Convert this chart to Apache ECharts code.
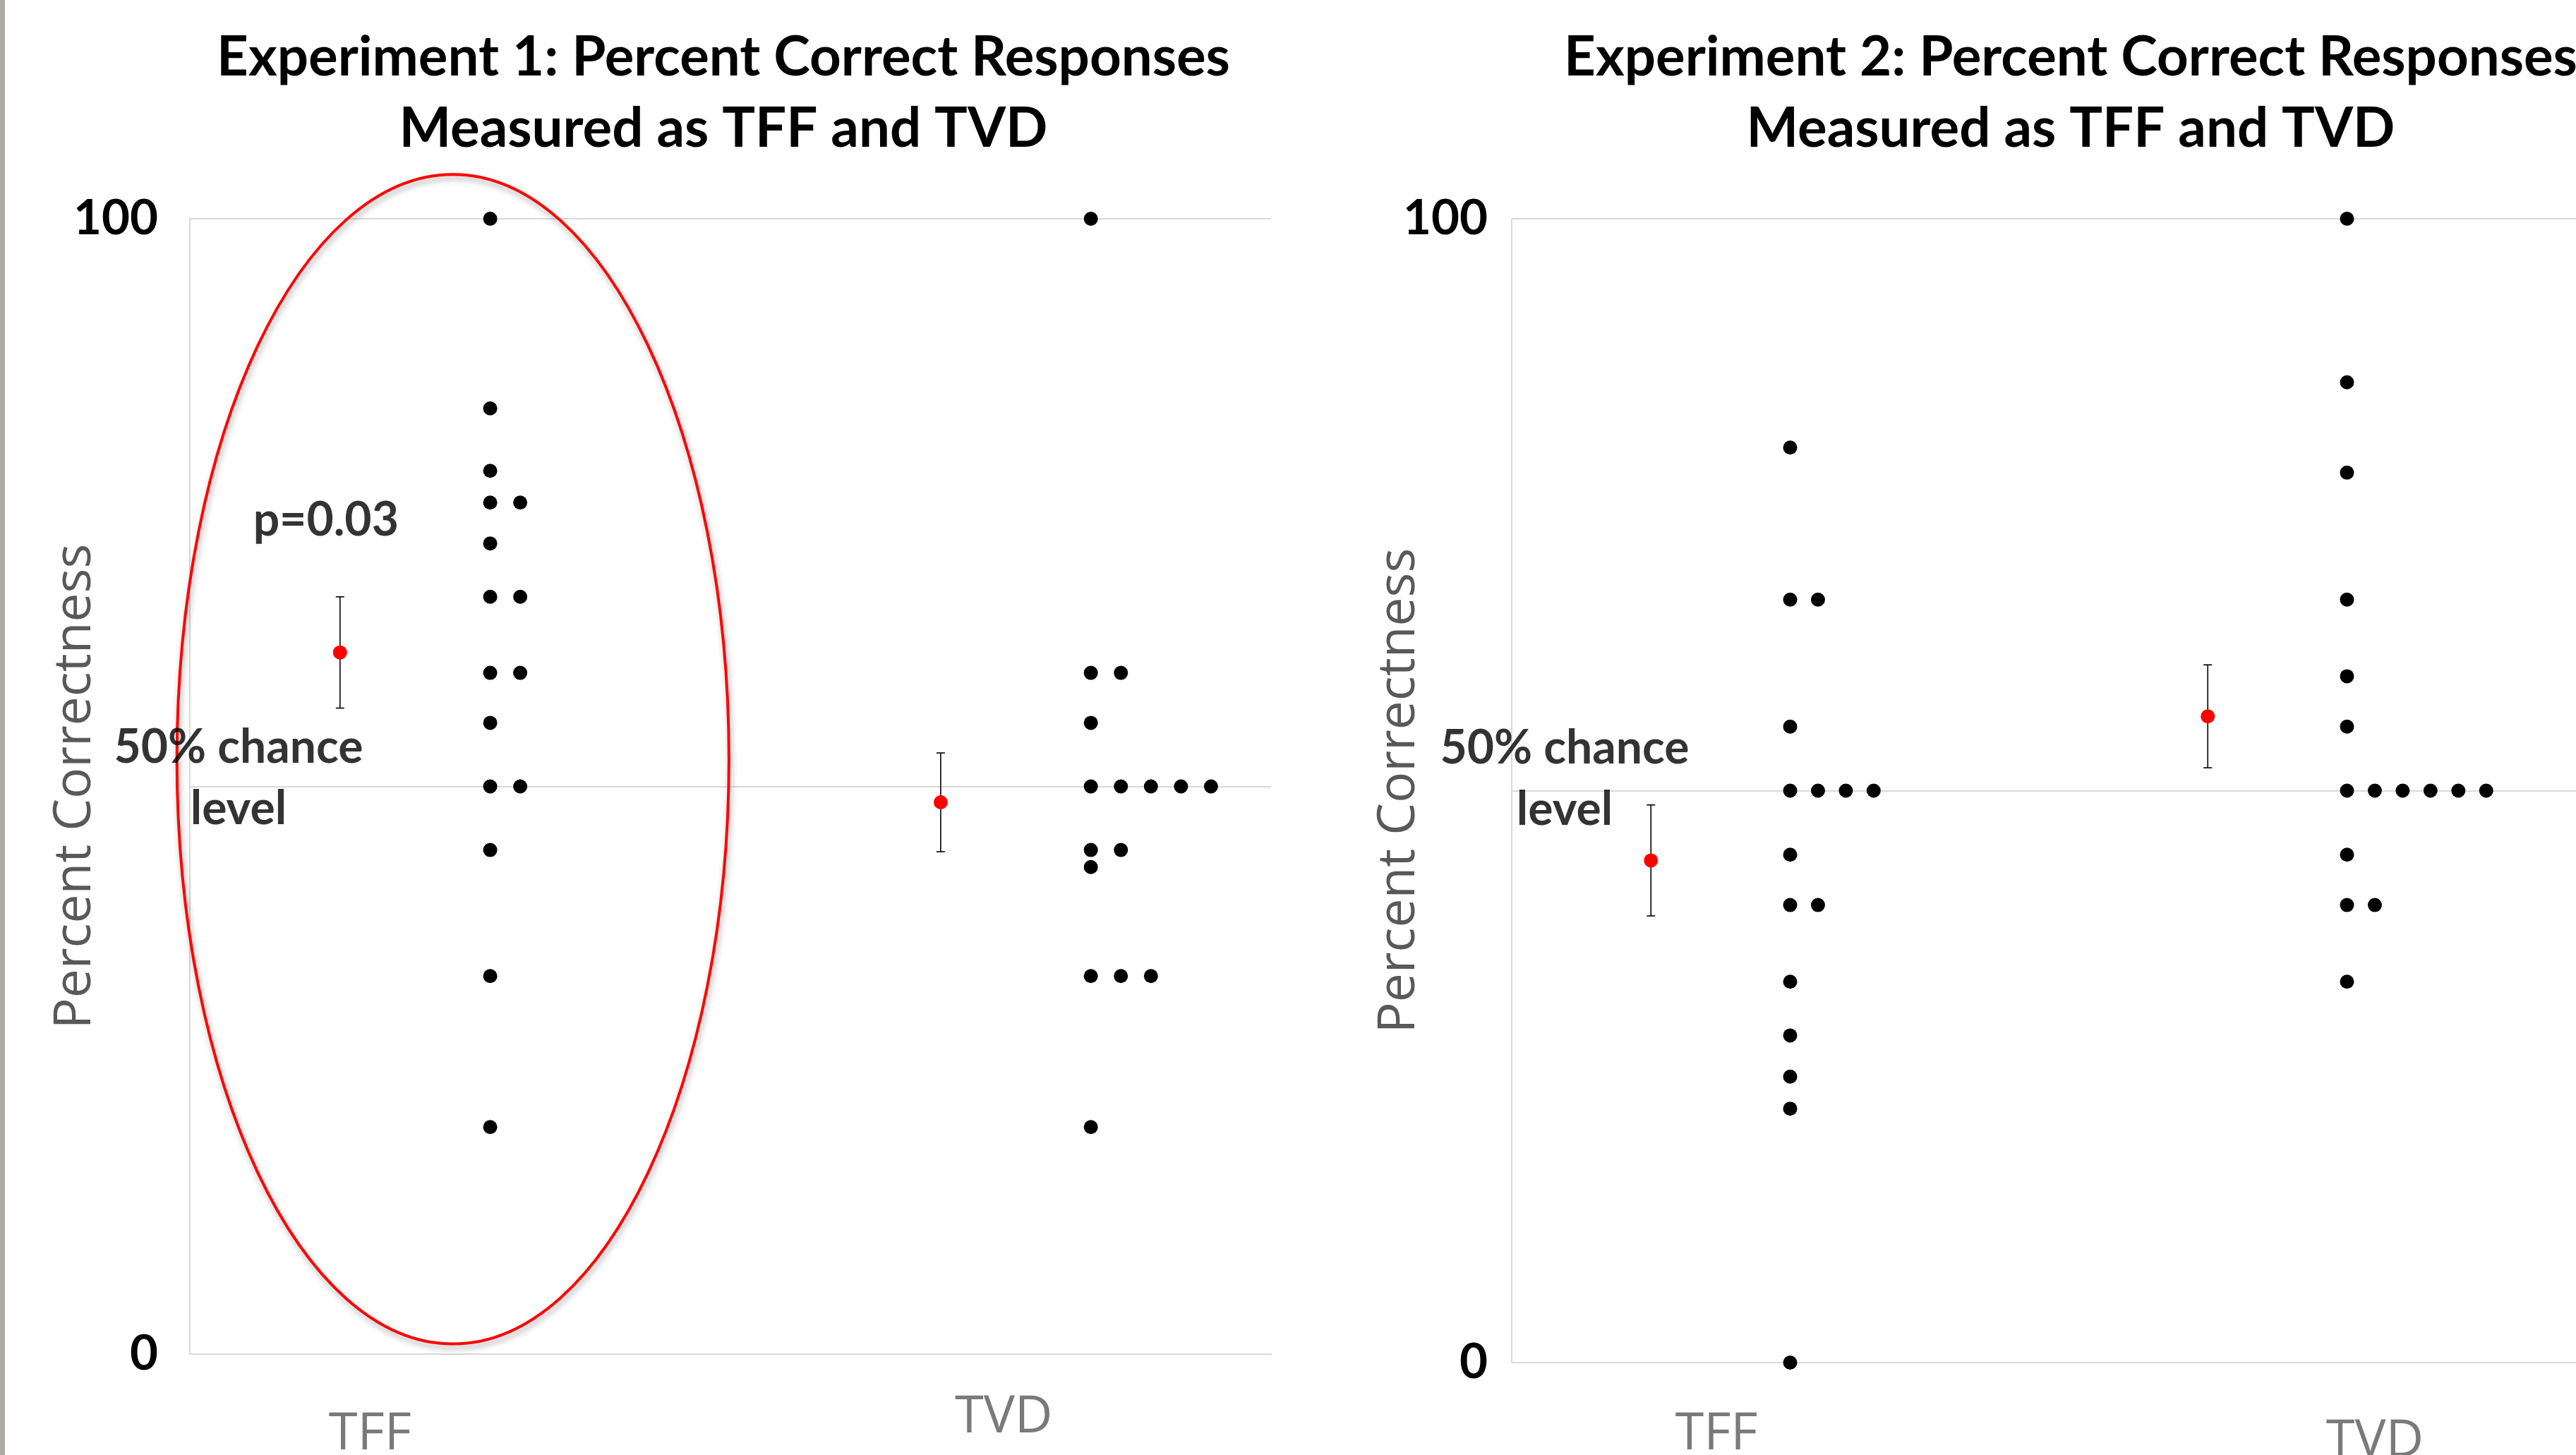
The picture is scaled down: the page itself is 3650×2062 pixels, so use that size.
<!DOCTYPE html>
<html>
<head>
<meta charset="utf-8">
<script src="https://cdn.jsdelivr.net/npm/echarts@6/dist/echarts.min.js"></script>
<style>
html,body{margin:0;padding:0;background:#ffffff;}
#c{width:3650px;height:2062px;}
</style>
</head>
<body>
<div id="c"></div>
<script>
// ---------- data ----------
const categories = ['TFF', 'TVD'];
const chartTitles = [
  'Experiment 1: Percent Correct Responses\nMeasured as TFF and TVD',
  'Experiment 2: Percent Correct Responses\nMeasured as TFF and TVD'
];
const yAxisTitle = 'Percent Correctness';
const yTicks = [0, 50, 100];
const yTickLabels = ['0', '', '100'];

// individual participant scores (percent correct)
const exp1TFF = [100, 83.3, 77.8, 75, 75, 71.4, 66.7, 66.7, 60, 60, 55.6, 50, 50, 44.4, 33.3, 20];
const exp1TVD = [100, 60, 60, 55.6, 50, 50, 50, 50, 50, 44.4, 44.4, 42.9, 33.3, 33.3, 33.3, 20];
const exp2TFF = [80, 66.7, 66.7, 55.6, 50, 50, 50, 50, 44.4, 40, 40, 33.3, 28.6, 25, 22.2, 0];
const exp2TVD = [100, 85.7, 77.8, 66.7, 60, 55.6, 50, 50, 50, 50, 50, 50, 44.4, 40, 40, 33.3];

// group means and error bar half-widths
const exp1Means = [61.8, 48.6];
const exp1Errors = [4.9, 4.35];
const exp2Means = [43.9, 56.5];
const exp2Errors = [4.85, 4.5];

// annotation texts
const pValueText = 'p=0.03';
const chanceText = '50% chance\nlevel';

// ---------- layout constants (x in axis units) ----------
const MEAN_X = [0.5, 2.5];
const DOT_X = [1, 3];
const DOT_STEP = 0.1;
const X_MAX = [3.6, 4];
const CAT_LABEL_POS = [[[0.6, -7.1], [2.71, -5.6]], [[0.735, -6.3], [3.10, -6.9]]];
const PVAL_POS = [0.453, 73.4];
const CHANCE_POS = [[0.162, 50.7], [0.19, 51.0]];
const ELLIPSE = [0.876, 52.4, 0.919, 51.5]; // cx, cy, rx, ry in axis units

const BOLD = 'Lato';
const GRAY_FONT = 'Open Sans';

function dotData(values, baseX) {
  const counts = {};
  return values.map(v => {
    const k = v.toFixed(1);
    const i = counts[k] || 0;
    counts[k] = i + 1;
    return [baseX + i * DOT_STEP, v];
  });
}

const grids = [
  {left: 269, top: 310, width: 1532, height: 1609, outerBoundsMode: 'none', containLabel: false},
  {left: 2142, top: 310, width: 1578, height: 1621, outerBoundsMode: 'none', containLabel: false}
];

const axisLineColor = '#d9d9d9';

function xAxisFor(i) {
  return {
    gridIndex: i, type: 'value', min: 0, max: X_MAX[i],
    axisLine: {show: true, onZero: false, lineStyle: {color: axisLineColor, width: 2}},
    axisTick: {show: false}, axisLabel: {show: false}, splitLine: {show: false}
  };
}
function yAxisFor(i) {
  return {
    gridIndex: i, type: 'value', min: 0, max: 100, interval: 50,
    axisLine: {show: true, lineStyle: {color: axisLineColor, width: 2}},
    axisTick: {show: false},
    splitLine: {show: true, lineStyle: {color: axisLineColor, width: 2}},
    axisLabel: {
      margin: i === 0 ? 45 : 34,
      color: '#000', fontFamily: BOLD, fontWeight: 'bold', fontSize: 69,
      formatter: v => yTickLabels[yTicks.indexOf(v)] ?? ''
    },
    name: yAxisTitle, nameLocation: 'middle', nameRotate: 90,
    nameGap: i === 0 ? 125 : 122, nameMoveOverlap: false,
    nameTextStyle: {fontFamily: GRAY_FONT, fontSize: 73, color: '#595959'}
  };
}

function errorBarSeries(i, means, errs) {
  return {
    type: 'custom', xAxisIndex: i, yAxisIndex: i, z: 3, clip: false,
    data: means.map((m, k) => [MEAN_X[k], m, errs[k]]),
    renderItem: (params, api) => {
      const x = api.value(0), m = api.value(1), e = api.value(2);
      const t = api.coord([x, m + e]);
      const b = api.coord([x, m - e]);
      const hw = 6;
      const st = {stroke: '#000', lineWidth: 1.6};
      return {type: 'group', children: [
        {type: 'line', shape: {x1: t[0], y1: t[1], x2: b[0], y2: b[1]}, style: st},
        {type: 'line', shape: {x1: t[0] - hw, y1: t[1], x2: t[0] + hw, y2: t[1]}, style: st},
        {type: 'line', shape: {x1: b[0] - hw, y1: b[1], x2: b[0] + hw, y2: b[1]}, style: st}
      ]};
    }
  };
}

function meanSeries(i, means) {
  return {
    type: 'scatter', xAxisIndex: i, yAxisIndex: i, z: 4,
    symbolSize: 20, itemStyle: {color: '#ff0000', opacity: 1},
    data: means.map((m, k) => [MEAN_X[k], m])
  };
}

function dotSeries(i, tff, tvd) {
  return {
    type: 'scatter', xAxisIndex: i, yAxisIndex: i, z: 4,
    symbolSize: 20, itemStyle: {color: '#000000', opacity: 1},
    data: dotData(tff, DOT_X[0]).concat(dotData(tvd, DOT_X[1]))
  };
}

function textSeries(i, items) {
  return {
    type: 'scatter', xAxisIndex: i, yAxisIndex: i, z: 6, clip: false, silent: true,
    symbolSize: 1, itemStyle: {color: 'rgba(0,0,0,0)'},
    data: items.map(it => ({
      name: it.text, value: it.at,
      label: Object.assign({show: true, position: 'inside', formatter: '{b}', align: 'center', verticalAlign: 'middle'}, it.style)
    }))
  };
}

const catStyle = {fontFamily: GRAY_FONT, fontSize: 74, color: '#595959'};
const annoStyle = {fontFamily: BOLD, fontWeight: 'bold', fontSize: 66, color: '#000', lineHeight: 87};

const option = {
  backgroundColor: '#ffffff',
  animation: false,
  title: chartTitles.map((t, i) => ({
    text: t, left: i === 0 ? 1025 : 2934, top: 31, textAlign: 'center', padding: 0,
    textStyle: {fontFamily: BOLD, fontWeight: 'bold', fontSize: 78, lineHeight: 101, color: '#000'}
  })),
  graphic: [
    {type: 'rect', left: 0, top: 0, shape: {width: 7, height: 2062}, style: {fill: '#aeaba4'}}
  ],
  grid: grids,
  xAxis: [xAxisFor(0), xAxisFor(1)],
  yAxis: [yAxisFor(0), yAxisFor(1)],
  series: [
    dotSeries(0, exp1TFF, exp1TVD),
    errorBarSeries(0, exp1Means, exp1Errors),
    meanSeries(0, exp1Means),
    dotSeries(1, exp2TFF, exp2TVD),
    errorBarSeries(1, exp2Means, exp2Errors),
    meanSeries(1, exp2Means),
    {
      type: 'custom', xAxisIndex: 0, yAxisIndex: 0, z: 5, clip: false, silent: true,
      data: [ELLIPSE],
      renderItem: (params, api) => {
        const c = api.coord([api.value(0), api.value(1)]);
        const s = api.size([api.value(2), api.value(3)]);
        return {
          type: 'ellipse',
          shape: {cx: c[0], cy: c[1], rx: s[0], ry: s[1]},
          style: {fill: 'none', stroke: '#ff0000', lineWidth: 4,
                  shadowColor: 'rgba(0,0,0,0.35)', shadowBlur: 8, shadowOffsetX: 2, shadowOffsetY: 5}
        };
      }
    },
    textSeries(0, [
      {text: categories[0], at: CAT_LABEL_POS[0][0], style: catStyle},
      {text: categories[1], at: CAT_LABEL_POS[0][1], style: catStyle},
      {text: pValueText, at: PVAL_POS, style: annoStyle},
      {text: chanceText, at: CHANCE_POS[0], style: annoStyle}
    ]),
    textSeries(1, [
      {text: categories[0], at: CAT_LABEL_POS[1][0], style: catStyle},
      {text: categories[1], at: CAT_LABEL_POS[1][1], style: catStyle},
      {text: chanceText, at: CHANCE_POS[1], style: annoStyle}
    ])
  ]
};

const chart = echarts.init(document.getElementById('c'), null, {renderer: 'canvas'});
chart.setOption(option);
</script>
</body>
</html>
